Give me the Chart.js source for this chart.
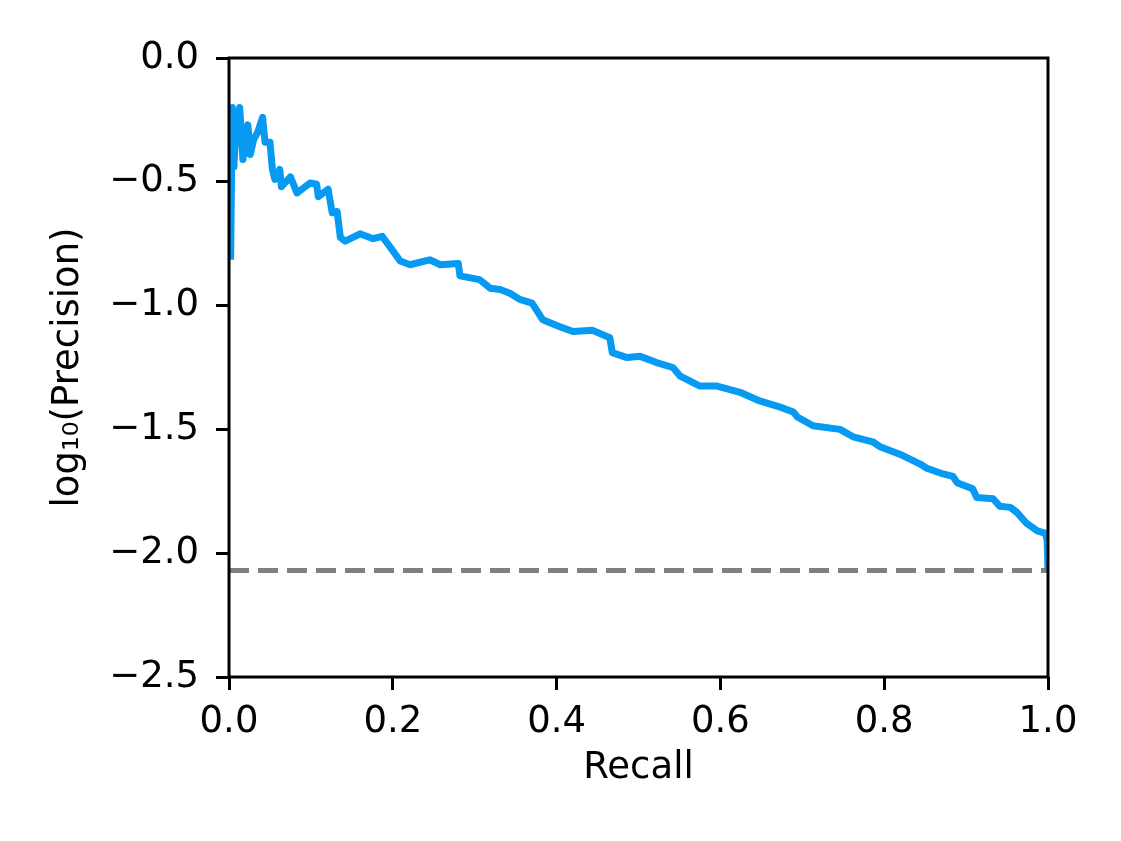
<!DOCTYPE html>
<html>
<head>
<meta charset="utf-8">
<script src="https://cdn.jsdelivr.net/npm/chart.js@4"></script>
<style>
  html, body { margin: 0; padding: 0; background: #fff; }
  #wrap { width: 1121px; height: 841px; }
</style>
</head>
<body>
<div id="wrap"><canvas id="prCurve"></canvas></div>
<script>
// values
const recall = [0.002, 0.003, 0.004, 0.006, 0.008, 0.013, 0.017, 0.023, 0.026, 0.030, 0.035, 0.041, 0.044,
    0.050, 0.053, 0.056, 0.062, 0.064, 0.075, 0.083, 0.099, 0.107, 0.109, 0.121, 0.126, 0.132, 0.136,
    0.142, 0.160, 0.176, 0.187, 0.197, 0.209, 0.221, 0.245, 0.258, 0.280, 0.282, 0.306, 0.319, 0.331,
    0.343, 0.355, 0.370, 0.383, 0.404, 0.420, 0.444, 0.465, 0.468, 0.486, 0.502, 0.522, 0.542, 0.551,
    0.575, 0.596, 0.624, 0.648, 0.673, 0.689, 0.694, 0.713, 0.746, 0.762, 0.786, 0.795, 0.819, 0.844,
    0.852, 0.872, 0.884, 0.889, 0.908, 0.913, 0.933, 0.941, 0.954, 0.962, 0.974, 0.987, 0.997, 0.999, 1.0];
const logPrecision = [-0.815, -0.50, -0.20, -0.44, -0.30, -0.20, -0.41, -0.27, -0.39, -0.33, -0.30, -0.24, -0.34,
    -0.34, -0.45, -0.49, -0.45, -0.52, -0.48, -0.545, -0.505, -0.51, -0.56, -0.53, -0.625, -0.62, -0.725,
    -0.74, -0.71, -0.73, -0.72, -0.765, -0.82, -0.835, -0.815, -0.835, -0.83, -0.88, -0.895, -0.93, -0.935,
    -0.95, -0.975, -0.99, -1.057, -1.085, -1.105, -1.10, -1.13, -1.19, -1.21, -1.205, -1.23, -1.25, -1.285,
    -1.325, -1.325, -1.35, -1.385, -1.41, -1.43, -1.45, -1.485, -1.50, -1.53, -1.55, -1.57, -1.60, -1.64,
    -1.657, -1.68, -1.69, -1.715, -1.74, -1.775, -1.78, -1.81, -1.815, -1.835, -1.88, -1.91, -1.92, -1.95, -2.065];
const baselineX = [0, 1];
const baselineY = [-2.07, -2.07];

const fontFamily = "'DejaVu Sans', sans-serif";
const fontSize = 37;

function fmtTick(value) {
    return value.toFixed(1).replace('-', '\u2212');
}

// draw the box round the plot (top and right sides too)
const frameBox = {
    id: 'frameBox',
    afterDatasetsDraw(chart) {
        const {ctx, chartArea} = chart;
        ctx.save();
        ctx.strokeStyle = '#000';
        ctx.lineWidth = 3;
        ctx.strokeRect(chartArea.left, chartArea.top, chartArea.right - chartArea.left, chartArea.bottom - chartArea.top);
        ctx.restore();
    }
};

let prChart = new Chart(document.getElementById('prCurve'), {
    type: 'scatter',
    data: {
        datasets: [{
            data: recall.map((r, i) => ({x: r, y: logPrecision[i]})),
            showLine: true,
            borderColor: '#069af3',
            borderWidth: 7,
            borderJoinStyle: 'round',
            pointRadius: 0,
            tension: 0
        }, {
            data: baselineX.map((r, i) => ({x: r, y: baselineY[i]})),
            showLine: true,
            borderColor: '#808080',
            borderWidth: 5,
            borderDash: [20, 9],
            pointRadius: 0
        }]
    },
    options: {
        responsive: true,
        maintainAspectRatio: false,
        animation: false,
        layout: { padding: { top: 58, right: 73, left: 0, bottom: 0 } },
        plugins: {
            legend: { display: false },
            tooltip: { enabled: false }
        },
        scales: {
            x: {
                type: 'linear',
                min: 0,
                max: 1,
                afterFit: (scale) => { scale.height = 164; },
                ticks: {
                    stepSize: 0.2,
                    callback: fmtTick,
                    color: '#000',
                    padding: 10,
                    maxRotation: 0,
                    font: { family: fontFamily, size: fontSize }
                },
                grid: { drawOnChartArea: false, drawTicks: true, tickLength: 13, tickWidth: 3, tickColor: '#000' },
                border: { display: false },
                title: {
                    display: true,
                    text: 'Recall',
                    color: '#000',
                    padding: { bottom: 50 },
                    font: { family: fontFamily, size: fontSize }
                }
            },
            y: {
                type: 'linear',
                min: -2.5,
                max: 0,
                afterFit: (scale) => { scale.width = 229; },
                ticks: {
                    stepSize: 0.5,
                    callback: fmtTick,
                    color: '#000',
                    padding: 17,
                    font: { family: fontFamily, size: fontSize }
                },
                grid: { drawOnChartArea: false, drawTicks: true, tickLength: 13, tickWidth: 3, tickColor: '#000' },
                border: { display: false },
                title: {
                    display: true,
                    text: 'log\u2081\u2080(Precision)',
                    color: '#000',
                    padding: { top: 46 },
                    font: { family: fontFamily, size: fontSize }
                }
            }
        }
    },
    plugins: [frameBox]
});
</script>
</body>
</html>
